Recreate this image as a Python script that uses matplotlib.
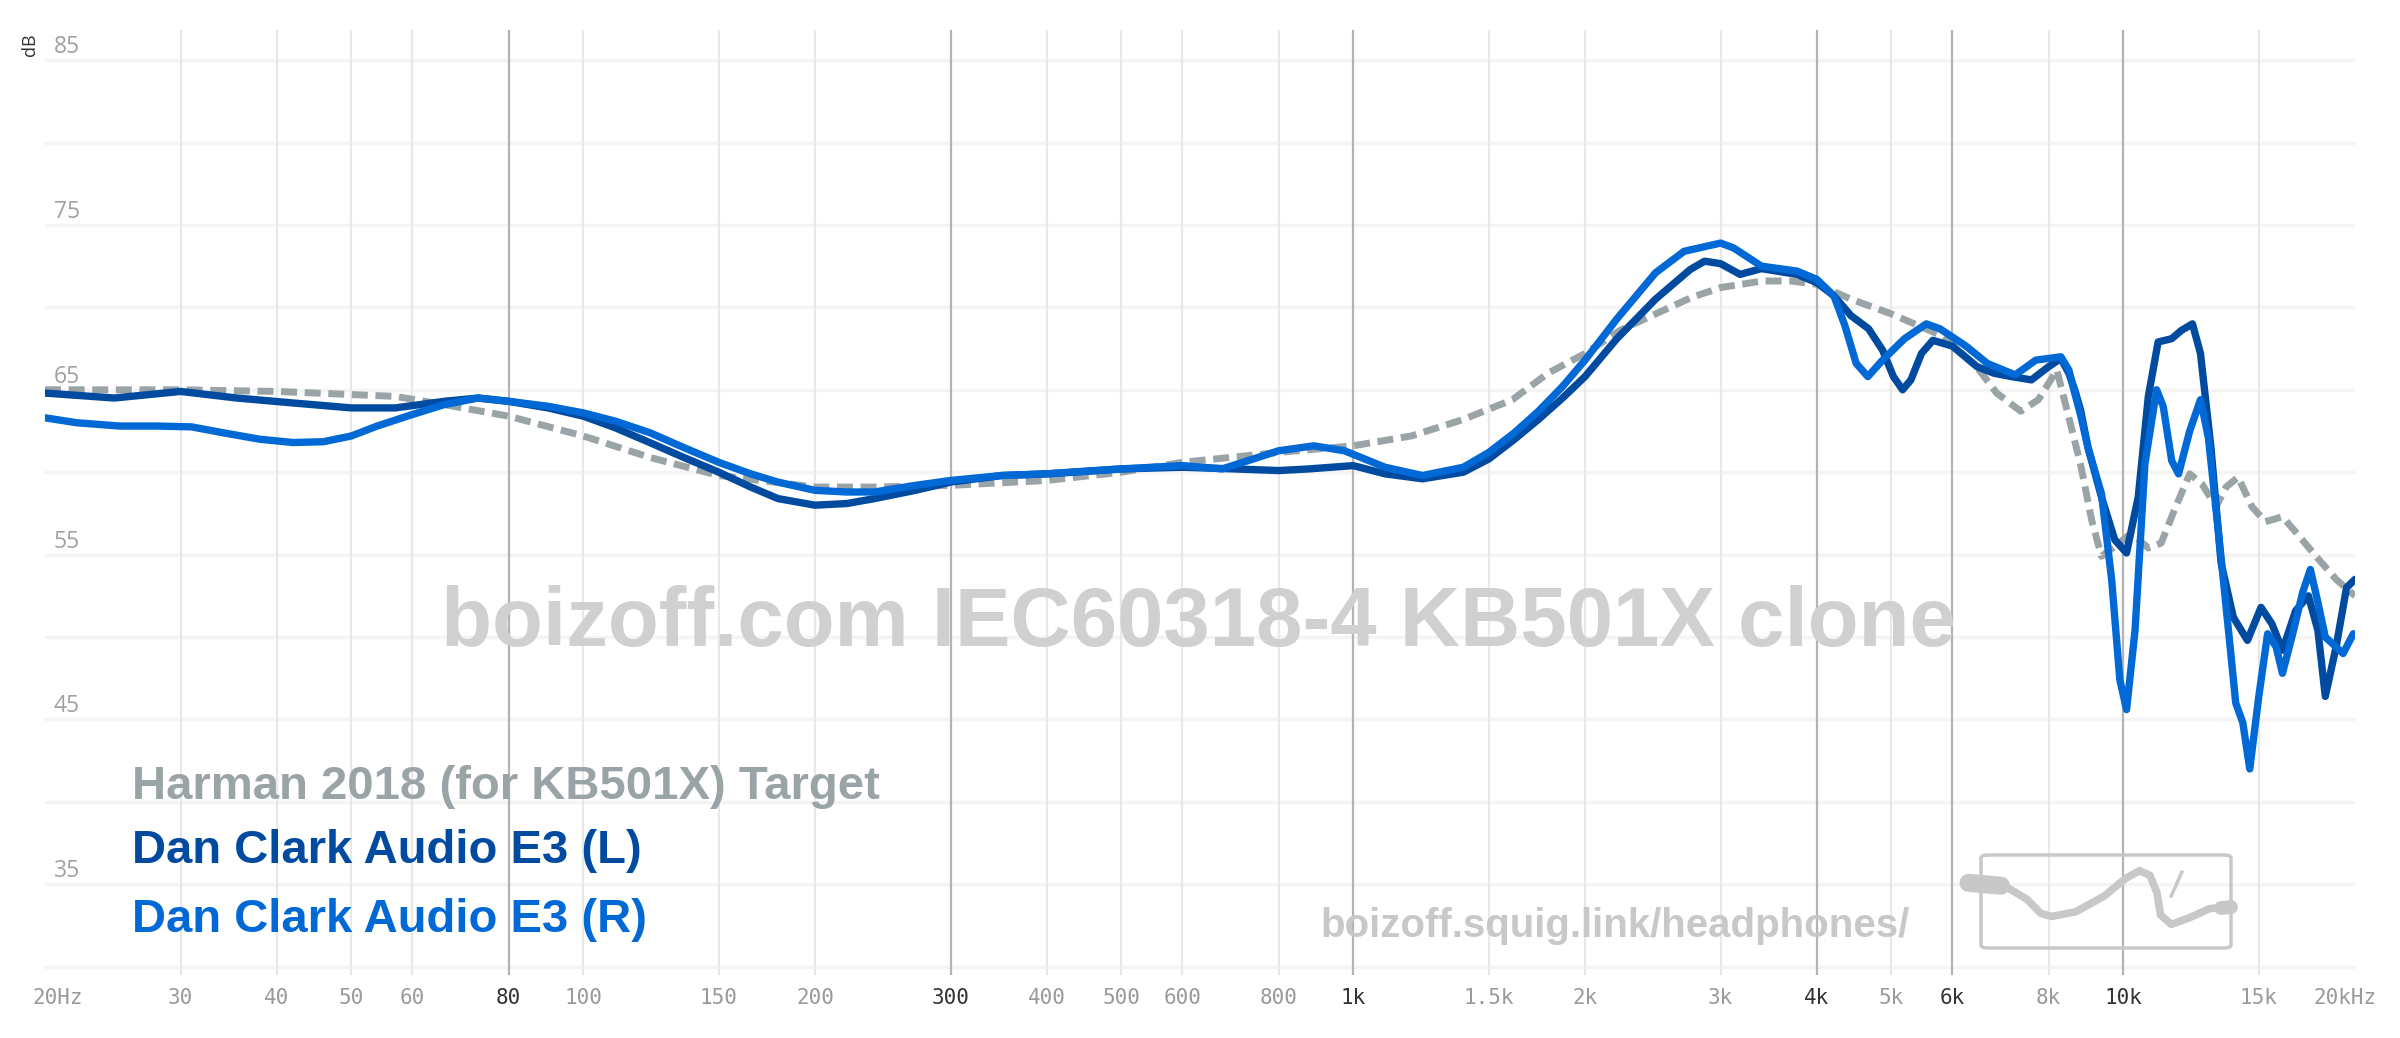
import matplotlib
matplotlib.use("Agg")
import matplotlib.pyplot as plt
from matplotlib.patches import FancyBboxPatch
from matplotlib import font_manager

# Harman 2018 (for KB501X) target
target_f = [20, 30, 40, 57, 66, 80, 100, 122, 150, 200, 239, 300, 400, 500, 600, 800, 1000,
            1190, 1390, 1610, 1790, 2000, 2220, 2470, 2750, 3000, 3400, 3700, 4000, 4430, 5000,
            5800, 6450, 6850, 7360, 7760, 8200, 8480, 8800, 9100, 9370, 9750, 10250, 10780,
            11200, 11700, 12200, 12650, 13200, 13600, 14100, 14700, 15300, 16100, 16800,
            17800, 18900, 20000]
target_db = [65.0, 65.0, 64.9, 64.6, 64.1, 63.4, 62.2, 60.9, 59.8, 59.1, 59.1, 59.2, 59.5,
             60.0, 60.6, 61.2, 61.6, 62.2, 63.2, 64.4, 66.0, 67.2, 68.6, 69.6, 70.6, 71.2,
             71.6, 71.6, 71.4, 70.5, 69.6, 68.3, 66.4, 64.8, 63.7, 64.4, 66.2, 63.5, 60.5,
             57.1, 54.9, 55.5, 56.3, 55.4, 55.7, 57.9, 59.9, 59.3, 57.9, 59.1, 59.7, 57.9,
             57.0, 57.3, 56.3, 54.9, 53.5, 52.5]

# Dan Clark Audio E3 (L)
left_f = [20, 24.6, 30, 35.5, 42, 50, 57, 66, 73, 80, 90, 100, 110, 122, 135, 150, 165, 179,
          200, 220, 239, 270, 300, 350, 400, 500, 600, 700, 800, 876, 1000, 1100, 1230, 1390,
          1500, 1620, 1740, 1870, 2000, 2200, 2470, 2740, 2860, 3000, 3180, 3390, 3770, 4000,
          4210, 4430, 4670, 4870, 5030, 5170, 5300, 5470, 5660, 6000, 6460, 6800, 7160, 7600,
          8000, 8300, 8500, 8650, 8800, 9000, 9370, 9750, 10100, 10460, 10780, 11100, 11560,
          11900, 12300, 12600, 13000, 13400, 13900, 14500, 15100, 15600, 16100, 16750, 17400,
          17900, 18300, 18900, 19500, 20000]
left_db = [64.8, 64.5, 64.9, 64.5, 64.2, 63.9, 63.9, 64.3, 64.5, 64.3, 63.9, 63.4, 62.7,
           61.8, 60.9, 60.0, 59.1, 58.4, 58.0, 58.1, 58.4, 58.9, 59.4, 59.8, 59.9, 60.2,
           60.3, 60.2, 60.1, 60.2, 60.4, 59.9, 59.6, 60.0, 60.8, 62.0, 63.2, 64.5, 65.8,
           68.1, 70.5, 72.3, 72.8, 72.65, 72.0, 72.35, 72.0, 71.5, 70.7, 69.5, 68.7, 67.4,
           65.8, 65.0, 65.6, 67.2, 68.0, 67.65, 66.4, 66.0, 65.8, 65.6, 66.4, 66.9, 66.0,
           65.0, 63.8, 61.5, 58.5, 55.9, 55.1, 58.5, 64.6, 67.9, 68.1, 68.6, 69.0, 67.2,
           61.5, 54.5, 51.2, 49.8, 51.8, 50.8, 49.2, 51.6, 52.5, 50.4, 46.4, 49.4, 53.0, 53.5]

# Dan Clark Audio E3 (R)
right_f = [20, 22, 25, 28, 31, 34, 38, 42, 46, 50, 54, 60, 66, 73, 80, 90, 100, 110, 122, 135,
           150, 165, 179, 200, 220, 239, 270, 300, 350, 400, 500, 600, 676, 730, 800, 889, 974,
           1100, 1230, 1390, 1500, 1620, 1740, 1870, 2000, 2200, 2470, 2690, 3000, 3120, 3390,
           3770, 4000, 4210, 4350, 4500, 4660, 4870, 5200, 5550, 5780, 6000, 6250, 6660, 7240,
           7700, 8300, 8500, 8650, 8800, 9000, 9370, 9660, 9900, 10100, 10360, 10670, 11050,
           11270, 11560, 11800, 12200, 12600, 12900, 13300, 13700, 14000, 14300, 14600, 15000,
           15400, 15800, 16100, 16600, 17100, 17500, 17900, 18300, 18900, 19300, 19900]
right_db = [63.3, 63.0, 62.8, 62.8, 62.75, 62.4, 62.0, 61.8, 61.85, 62.2, 62.8, 63.5, 64.1,
            64.5, 64.3, 64.0, 63.6, 63.1, 62.4, 61.5, 60.6, 59.9, 59.4, 58.9, 58.8, 58.8,
            59.2, 59.5, 59.8, 59.9, 60.2, 60.4, 60.2, 60.7, 61.3, 61.6, 61.3, 60.3, 59.8,
            60.3, 61.2, 62.4, 63.7, 65.2, 66.8, 69.3, 72.1, 73.4, 73.9, 73.6, 72.5, 72.2,
            71.7, 70.7, 68.9, 66.6, 65.8, 66.8, 68.1, 69.0, 68.7, 68.2, 67.65, 66.6, 65.9,
            66.8, 67.0, 66.2, 64.8, 63.5, 61.5, 58.7, 53.5, 47.4, 45.6, 50.4, 60.5, 65.0,
            64.0, 60.7, 59.9, 62.5, 64.4, 62.1, 56.3, 50.4, 46.0, 44.8, 42.0, 46.4, 50.2,
            49.4, 47.8, 50.2, 52.7, 54.1, 52.1, 50.0, 49.4, 49.0, 50.2]

grid_freqs = [30, 40, 50, 60, 80, 100, 150, 200, 300, 400, 500, 600, 800, 1000, 1500, 2000,
              3000, 4000, 5000, 6000, 8000, 10000, 15000]
major_freqs = [80, 300, 1000, 4000, 6000, 10000]
tick_freqs = [20, 30, 40, 50, 60, 80, 100, 150, 200, 300, 400, 500, 600, 800, 1000, 1500,
              2000, 3000, 4000, 5000, 6000, 8000, 10000, 15000, 20000]
tick_labels = ["20Hz", "30", "40", "50", "60", "80", "100", "150", "200", "300", "400", "500",
               "600", "800", "1k", "1.5k", "2k", "3k", "4k", "5k", "6k", "8k", "10k", "15k",
               "20kHz"]
db_labels = [85, 75, 65, 55, 45, 35]

names = ["Harman 2018 (for KB501X) Target", "Dan Clark Audio E3 (L)", "Dan Clark Audio E3 (R)"]
colors = ["#9aa4a7", "#004aa0", "#0069d6"]

installed = {f.name for f in font_manager.fontManager.ttflist}
narrow = "Liberation Sans Narrow" if "Liberation Sans Narrow" in installed else "Liberation Sans"

fig = plt.figure(figsize=(24, 10.38), dpi=100)
ax = fig.add_axes([0.01875, 0.0607, 0.9625, 0.910])
ax.set_xscale("log")
ax.set_xlim(20, 20000)
ax.set_ylim(29.5, 86.8)
for s in ax.spines.values():
    s.set_visible(False)
ax.set_xticks([])
ax.set_yticks([])
ax.minorticks_off()

# grid
for db in range(30, 90, 5):
    ax.axhline(db, color="#f4f4f4", lw=2.5, zorder=0)
for f in grid_freqs:
    if f in major_freqs:
        ax.axvline(f, color="#b3b3b3", lw=1.6, zorder=0.5)
    else:
        ax.axvline(f, color="#e8e8e8", lw=1.6, zorder=0.5)

# axis labels as text
for f, lab in zip(tick_freqs, tick_labels):
    dx = 0
    if lab == "20Hz":
        dx = 13
    if lab == "20kHz":
        dx = -10
    c = "#333333" if f in major_freqs else "#9a9a9a"
    ax.annotate(lab, xy=(f, 0), xycoords=("data", "axes fraction"), xytext=(dx, -23),
                textcoords="offset pixels", ha="center", va="center",
                family="DejaVu Sans Mono", fontsize=15, color=c)
for db in db_labels:
    ax.annotate(str(db), xy=(0, db), xycoords=("axes fraction", "data"), xytext=(22, 13),
                textcoords="offset pixels", ha="center", va="center",
                family="Open Sans", fontsize=16.5, color="#a0a0a0")
fig.text(30 / 2400, 1 - 45 / 1038, "dB", rotation=90, ha="center", va="center",
         family="Open Sans", fontsize=13, color="#333333")

# watermarks
fig.text(0.4995, 1 - 624 / 1038, "boizoff.com IEC60318-4 KB501X clone", ha="center",
         va="center", family="Liberation Sans", weight="bold", fontsize=60, color="#d0d0d0",
         zorder=1)
fig.text(1615 / 2400, 1 - 926 / 1038, "boizoff.squig.link/headphones/", ha="center",
         va="center", family=narrow, weight="bold", fontsize=29, color="#c8c8c8", zorder=1)

# logo
box = FancyBboxPatch((1981 / 2400, 1 - 948 / 1038), 250 / 2400, 93 / 1038,
                     boxstyle="round,pad=0,rounding_size=0.003", transform=fig.transFigure,
                     fill=False, ec="#c8c8c8", lw=2.5, zorder=1)
fig.patches.append(box)
lax = fig.add_axes([1981 / 2400, 1 - 948 / 1038, 250 / 2400, 93 / 1038])
lax.set_xlim(0, 1)
lax.set_ylim(0, 1)
lax.axis("off")
sx = [-0.042, 0.099, 0.183, 0.239, 0.282, 0.38, 0.493, 0.577, 0.634, 0.676, 0.704, 0.718,
      0.761, 0.831, 0.915, 1.0]
sy = [0.695, 0.661, 0.525, 0.373, 0.339, 0.39, 0.559, 0.746, 0.831, 0.78, 0.593, 0.356,
      0.254, 0.322, 0.424, 0.441]
lax.plot(sx, sy, color="#c8c8c8", lw=5.5, solid_capstyle="round", solid_joinstyle="round",
         clip_on=False)
lax.plot([-0.05, 0.08], [0.7, 0.67], color="#c8c8c8", lw=13, solid_capstyle="round",
         clip_on=False)
lax.plot([0.96, 1.0], [0.43, 0.44], color="#c8c8c8", lw=10, solid_capstyle="round",
         clip_on=False)
lax.plot([0.761, 0.803], [0.559, 0.814], color="#c8c8c8", lw=2.5, clip_on=False)

# curves
ax.plot(target_f, target_db, color=colors[0], lw=5, dashes=(2.3, 1.1), zorder=3,
        dash_capstyle="butt")
ax.plot(left_f, left_db, color=colors[1], lw=5.3, zorder=4, solid_joinstyle="round",
        solid_capstyle="round")
ax.plot(right_f, right_db, color=colors[2], lw=5.3, zorder=5, solid_joinstyle="round",
        solid_capstyle="round")

# legend
ys = [787, 851, 920]
for name, c, y in zip(names, colors, ys):
    fig.text(132 / 2400, 1 - y / 1038, name, ha="left", va="center", family=narrow,
             weight="bold", fontsize=34, color=c)

fig.savefig("out.png", dpi=100)
